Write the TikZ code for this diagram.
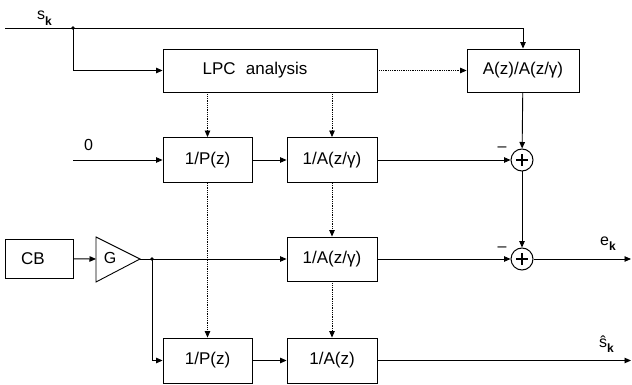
\documentclass[tikz,border=0pt]{standalone}
\usepackage{fontspec}
\setmainfont{Liberation Sans}
\usetikzlibrary{arrows.meta}
\newcommand\mysub[1]{\raisebox{-5.5pt}{\fontsize{12}{12}\selectfont\bfseries #1}}
\begin{document}
\begin{tikzpicture}[x=1pt,y=-1pt,
  lw/.style={line width=0.9pt},
  blk/.style={draw, lw, inner sep=0pt, font=\fontsize{17}{19}\selectfont},
  tip/.style={-{Triangle[length=6.5pt,width=5.5pt]}},
  conn/.style={lw, tip},
  plain/.style={lw},
  dotconn/.style={line width=0.8pt, densely dotted, tip},
  lbl/.style={inner sep=0pt, font=\fontsize{16}{18}\selectfont},
  sumnode/.style={circle, draw, line width=1pt, minimum size=22pt, inner sep=0pt,
    path picture={\draw[line width=1.2pt] ([xshift=-6pt]path picture bounding box.center) -- ([xshift=6pt]path picture bounding box.center);
                  \draw[line width=1.2pt] ([yshift=-6pt]path picture bounding box.center) -- ([yshift=6pt]path picture bounding box.center);}},
  jdot/.style={fill, circle, inner sep=0pt, minimum size=3.6pt}
]
\useasboundingbox (0,0) rectangle (632,385);

% blocks
\node[blk, minimum width=214pt, minimum height=43pt] (lpc) at (270,70.5) {LPC\hspace{0.6em}analysis\hspace*{30pt}};
\node[blk, minimum width=112pt, minimum height=43pt] (azg) at (523,70.5) {A(z)/A(z/γ)};
\node[blk, minimum width=89pt, minimum height=45pt] (p1) at (207.5,160) {1/P(z)};
\node[blk, minimum width=90pt, minimum height=45pt] (a1) at (332,160) {1/A(z/γ)};
\node[blk, minimum width=68pt, minimum height=39pt] (cb) at (39,258.5) {CB\hspace*{12pt}};
\node[blk, minimum width=90pt, minimum height=44pt] (a2) at (332,259) {1/A(z/γ)};
\node[blk, minimum width=89pt, minimum height=45pt] (p2) at (207.5,360.5) {1/P(z)};
\node[blk, minimum width=90pt, minimum height=45pt] (a3) at (332,360.5) {1/A(z)};

\node[sumnode] (s1) at (522,160) {};
\node[sumnode] (s2) at (522,259) {};

% gain triangle
\coordinate (gin) at (96,259);
\coordinate (gout) at (140,259);
\draw[lw, line join=miter] (96,237) -- (gout) -- (96,282) -- cycle;
\node[lbl] (g) at (110,258) {G};

% coordinates
\coordinate (sin) at (5,28);
\node[jdot] (j1) at (73,28) {};
\coordinate (zin) at (73,160);
\node[jdot] (j2) at (152,259) {};
\coordinate (eout) at (631,259);
\coordinate (sout) at (631,360.5);

% connectors
\draw[conn] (sin) -| (azg.north);
\draw[conn] (j1.center) |- (lpc.west);
\draw[dotconn] (lpc.east) -- (azg.west);
\draw[dotconn] (lpc.south -| p1.north) -- (p1.north);
\draw[dotconn] (lpc.south -| a1.north) -- (a1.north);
\draw[conn] (zin) -- (p1.west);
\draw[conn] (p1) -- (a1);
\draw[conn] (a1) -- (s1);
\draw[conn] (azg) -- (s1);
\draw[conn] (s1) -- (s2);
\draw[conn] (cb) -- (gin);
\draw[plain] (gout) -- (j2.center);
\draw[conn] (j2.center) -- (a2.west);
\draw[conn] (a2) -- (s2);
\draw[conn] (s2) -- (eout);
\draw[conn] (j2.center) |- (p2.west);
\draw[conn] (p2) -- (a3);
\draw[conn] (a3) -- (sout);
\draw[dotconn] (p1.south) -- (p2.north);
\draw[dotconn] (a1.south) -- (a2.north);
\draw[dotconn] (a2.south) -- (a3.north);

% labels
\node[lbl, anchor=base west] (lsk) at (37,20) {s\mysub{k}};
\node[lbl, anchor=base west] (lzero) at (84,150) {0};
\node[lbl] (m1) at (502,149) {–};
\node[lbl] (m2) at (502,249) {–};
\node[lbl, anchor=base west] (lek) at (600,245) {e\mysub{k}};
\node[lbl, anchor=base west] (lshk) at (599,347) {ŝ\mysub{k}};
\end{tikzpicture}
\end{document}
